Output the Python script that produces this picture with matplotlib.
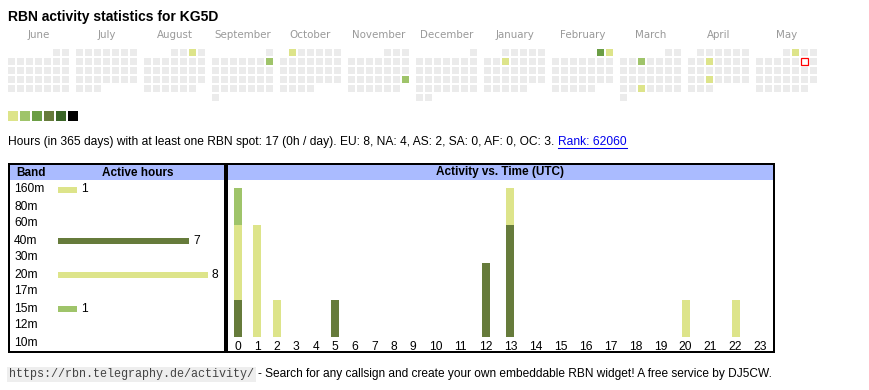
import datetime
import calendar
import matplotlib
matplotlib.use("Agg")
import matplotlib.pyplot as plt
from matplotlib.patches import Rectangle
from matplotlib.lines import Line2D

W, H = 870, 390

# ---- data ----
title = "RBN activity statistics for KG5D"
months = [(2024, 6), (2024, 7), (2024, 8), (2024, 9), (2024, 10), (2024, 11),
          (2024, 12), (2025, 1), (2025, 2), (2025, 3), (2025, 4), (2025, 5)]
today = datetime.date(2025, 5, 10)

active_dates = ["2024-08-03", "2024-09-08", "2024-10-01", "2024-11-24", "2025-01-08",
                "2025-02-01", "2025-02-02", "2025-03-05", "2025-03-26", "2025-04-09",
                "2025-04-23", "2025-05-02"]
active_hours = [1, 2, 1, 2, 1, 3, 1, 2, 1, 1, 1, 1]
level_colors = ["#dde48a", "#9fc46a", "#6b9e45", "#667b3b", "#3a6527", "#000000"]

info_text = ("Hours (in 365 days) with at least one RBN spot: 17 (0h / day). "
             "EU: 8, NA: 4, AS: 2, SA: 0, AF: 0, OC: 3.")
rank_text = "Rank: 62060"

bands = ["160m", "80m", "60m", "40m", "30m", "20m", "17m", "15m", "12m", "10m"]
band_hours = [1, 0, 0, 7, 0, 8, 0, 1, 0, 0]
band_colors = ["#dde48a", "#c9a0dc", "#a0c8e8", "#667b3b", "#e8b070",
               "#dde48a", "#80c0b0", "#9fc46a", "#e0a0a0", "#b0b0e0"]

hours = list(range(24))
# spots per hour, by band (stacked bottom to top)
hour_160m = [0, 0, 0, 0, 0, 0, 0, 0, 0, 0, 0, 0, 0, 0, 0, 0, 0, 0, 0, 0, 0, 0, 1, 0]
hour_40m = [1, 0, 0, 0, 0, 1, 0, 0, 0, 0, 0, 0, 2, 3, 0, 0, 0, 0, 0, 0, 0, 0, 0, 0]
hour_20m = [2, 3, 1, 0, 0, 0, 0, 0, 0, 0, 0, 0, 0, 1, 0, 0, 0, 0, 0, 0, 1, 0, 0, 0]
hour_15m = [1, 0, 0, 0, 0, 0, 0, 0, 0, 0, 0, 0, 0, 0, 0, 0, 0, 0, 0, 0, 0, 0, 0, 0]

footer_url = "https://rbn.telegraphy.de/activity/"
footer_text = "- Search for any callsign and create your own embeddable RBN widget! A free service by DJ5CW."

SANS = ["Liberation Sans", "DejaVu Sans"]
FS = 8.62


def px_axes(fig, x0, y0, x1, y1):
    return fig.add_axes([x0 / W, 1 - y1 / H, (x1 - x0) / W, (y1 - y0) / H])


fig = plt.figure(figsize=(W / 100, H / 100), dpi=100)
fig.patch.set_facecolor("white")

bg = px_axes(fig, 0, 0, W, H)
bg.set_xlim(0, W)
bg.set_ylim(H, 0)
bg.axis("off")

bg.text(8, 17, title, fontsize=10, fontweight="bold", family=SANS, va="center", ha="left")

# ---- calendar ----
ax_cal = px_axes(fig, 8, 49, 817, 103)
ax_cal.set_xlim(0, 809 / 9)
ax_cal.set_ylim(54 / 9, 0)
ax_cal.axis("off")
cell = 7 / 9
block = 68 / 9
day_level = {datetime.date.fromisoformat(d): h for d, h in zip(active_dates, active_hours)}
for m, (y, mo) in enumerate(months):
    first = datetime.date(y, mo, 1).weekday()
    ndays = calendar.monthrange(y, mo)[1]
    for d in range(1, ndays + 1):
        idx = first + d - 1
        col, row = idx % 7, idx // 7
        date = datetime.date(y, mo, d)
        fc = "#ebebeb"
        if date in day_level:
            fc = level_colors[day_level[date] - 1]
        ec = "none"
        if date == today:
            fc, ec = "white", "red"
        ax_cal.add_patch(Rectangle((m * block + col, row), cell, cell, fc=fc, ec=ec,
                                   lw=0.9 if ec != "none" else 0))
    ax_cal.text(m * block + 61 / 18, -14 / 9, calendar.month_name[mo], ha="center", va="center",
                fontsize=7.4, color="#999999", family="DejaVu Sans", clip_on=False)

# ---- level legend ----
for i, c in enumerate(level_colors):
    bg.add_patch(Rectangle((8 + 12 * i, 111), 10, 10, fc=c, ec="none"))

# ---- info line ----
t = bg.text(8, 142, info_text, fontsize=FS, family=SANS, va="center", ha="left")
fig.canvas.draw()
r = fig.canvas.get_renderer()
inv = bg.transData.inverted()
bb = t.get_window_extent(r)
x_end = inv.transform((bb.x1, bb.y0))[0]
lt = bg.text(x_end + 4, 142, rank_text, fontsize=FS, family=SANS, va="center", ha="left",
             color="#0000ee")
lbb = lt.get_window_extent(r)
lx0 = inv.transform((lbb.x0, 0))[0]
lx1 = inv.transform((lbb.x1, 0))[0]
bg.add_line(Line2D([lx0, lx1], [147.5, 147.5], color="#0000ee", lw=0.75))

# ---- frames ----
bg.add_patch(Rectangle((10, 165), 214, 15, fc="#aabbff", ec="none"))
bg.add_patch(Rectangle((228, 165), 545, 15, fc="#aabbff", ec="none"))
bg.add_patch(Rectangle((9, 164), 216, 188, fill=False, ec="black", lw=1.44))
bg.add_patch(Rectangle((227, 164), 547, 188, fill=False, ec="black", lw=1.44))
bg.text(16, 172.5, "Band", fontsize=8.5, fontweight="bold", family=SANS, va="center", ha="left")
bg.text(138, 172.5, "Active hours", fontsize=8.5, fontweight="bold", family=SANS, va="center", ha="center")
bg.text(500, 172.5, "Activity vs. Time (UTC)", fontsize=8.5, fontweight="bold", family=SANS,
        va="center", ha="center")

# ---- band bars ----
ax_band = px_axes(fig, 58, 181, 223, 351)
ax_band.set_xlim(0, 165 / 18.75)
ax_band.set_ylim(len(bands) - 0.5, -0.5)
for i, (b, v) in enumerate(zip(bands, band_hours)):
    if v > 0:
        ax_band.barh(i, v, height=6 / 17, color=band_colors[i], left=0)
        ax_band.annotate(str(v), (v, i), xytext=(4, 0), textcoords="offset pixels",
                         va="center", ha="left", fontsize=FS, family=SANS)
ax_band.set_yticks(range(len(bands)))
ax_band.set_yticklabels(bands, fontsize=FS, family=SANS)
for lbl in ax_band.get_yticklabels():
    lbl.set_ha("left")
    lbl.set_va("center")
ax_band.tick_params(axis="y", length=0, pad=31.5)
ax_band.set_xticks([])
for s in ax_band.spines.values():
    s.set_visible(False)
ax_band.patch.set_alpha(0)

# ---- activity vs time ----
col_w = [19.5 if h < 10 else 25 for h in hours]
centers = []
acc = 0
for w in col_w:
    centers.append(acc + w / 2)
    acc += w
ax_act = px_axes(fig, 228, 188, 773, 337)
ax_act.set_xlim(0, acc)
totals = [a + b + c + d for a, b, c, d in zip(hour_160m, hour_40m, hour_20m, hour_15m)]
ax_act.set_ylim(0, max(totals))
bottom = [0] * 24
for series, band in [(hour_160m, "160m"), (hour_40m, "40m"), (hour_20m, "20m"), (hour_15m, "15m")]:
    ax_act.bar(centers, series, width=8, bottom=bottom, color=band_colors[bands.index(band)])
    bottom = [p + q for p, q in zip(bottom, series)]
ax_act.set_xticks(centers)
ax_act.set_xticklabels([str(h) for h in hours], fontsize=FS, family=SANS)
ax_act.tick_params(axis="x", length=0, pad=3)
ax_act.set_yticks([])
for s in ax_act.spines.values():
    s.set_visible(False)
ax_act.patch.set_alpha(0)

# ---- footer ----
u = bg.text(9, 374.5, footer_url, fontsize=8.5, family=["Liberation Mono", "DejaVu Sans Mono"],
            va="center", ha="left", color="#444444",
            bbox=dict(boxstyle="square,pad=0.15", fc="#eeeeee", ec="none"))
ub = u.get_window_extent(r)
ux = inv.transform((ub.x1, 0))[0]
bg.text(ux + 4, 374.5, footer_text, fontsize=8.55, family=SANS, va="center", ha="left")

fig.savefig("out.png", dpi=100, facecolor="white")
